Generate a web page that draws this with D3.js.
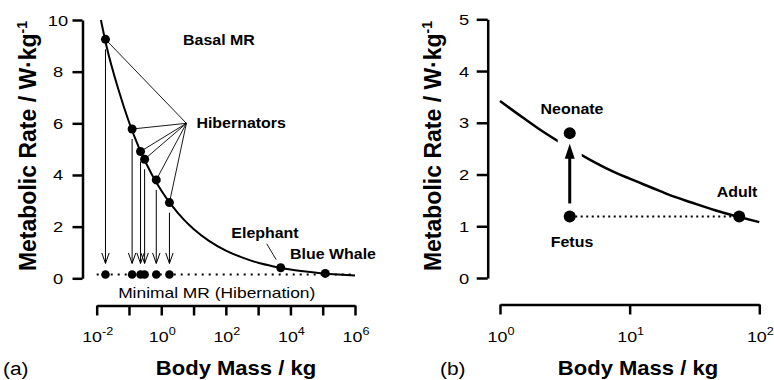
<!DOCTYPE html>
<html>
<head>
<meta charset="utf-8">
<script src="https://cdn.jsdelivr.net/npm/d3@7"></script>
<style>
  body { margin: 0; background: #fff; }
  svg { font-family: "Liberation Sans", Arial, sans-serif; }
</style>
</head>
<body>
<div id="chart"></div>
<script>
// ---- panel (a): basal vs minimal metabolic rate across mammals ----
var curveMassA = [0.0135, 0.02, 0.05, 0.1, 0.2, 0.5, 1, 2, 5, 10, 30, 100, 300, 1000, 3000, 1e4, 3e4, 1e5, 3e5, 1e6];
var curveRateA = [10.0, 9.0, 7.2, 6.05, 5.08, 4.04, 3.4, 2.86, 2.27, 1.91, 1.45, 1.075, 0.82, 0.60, 0.46, 0.34, 0.26, 0.19, 0.145, 0.107];
var hibMass = [0.0187, 0.125, 0.228, 0.305, 0.70, 1.79];
var hibBasal = [9.25, 5.78, 4.91, 4.61, 3.81, 2.93];
var hibMinimal = 0.15;
var bigMass = [5000, 120000];
var bigRate = [0.41, 0.19];
var yTicksA = [0, 2, 4, 6, 8, 10];
var xExpA = [-2, -1, 0, 1, 2, 3, 4, 5, 6];
var xLabelExpA = [-2, 0, 2, 4, 6];

// ---- panel (b): fetus / neonate / adult ----
var curveMassB = [1, 1.5, 2, 3, 5, 7, 10, 15, 20, 30, 50, 70, 100];
var curveRateB = [3.42, 3.10, 2.88, 2.60, 2.28, 2.09, 1.92, 1.74, 1.61, 1.46, 1.28, 1.18, 1.08];
var stageNames = ["Fetus", "Neonate", "Adult"];
var stageMass = [3.45, 3.45, 70];
var stageRate = [1.19, 2.80, 1.19];
var yTicksB = [0, 1, 2, 3, 4, 5];
var xExpB = [0, 1, 2];

var svg = d3.select("#chart").append("svg")
    .attr("width", 774)
    .attr("height", 380);

// text helper, the original figure is a bit stretched sideways
function addText(g, x, y, str, size, weight, anchor, sx) {
  return g.append("text")
    .attr("transform", "translate(" + x + "," + y + ") scale(" + sx + ",1)")
    .attr("text-anchor", anchor)
    .style("font-size", size + "px")
    .style("font-weight", weight)
    .text(str);
}

function styleAxis(g) {
  g.select(".domain").attr("stroke-width", 2.5);
  g.selectAll(".tick line").attr("stroke-width", 2.5);
}

function yTitle(g, x) {
  var t = g.append("text")
    .attr("transform", "translate(" + x + ",146) rotate(-90)")
    .attr("text-anchor", "middle")
    .style("font-size", "23px")
    .style("font-weight", "bold")
    .text("Metabolic Rate / W\u00B7kg");
  t.append("tspan").attr("dy", -9).style("font-size", "14px").text("-1");
}

var line = function (xs, ys) {
  return d3.line().x(function (d) { return xs(d[0]); }).y(function (d) { return ys(d[1]); })
    .curve(d3.curveMonotoneX);
};

// ================= panel (a) =================
var ga = svg.append("g");
var xa = d3.scaleLog().domain([1e-2, 1e6]).range([96.7, 355]);
var ya = d3.scaleLinear().domain([0, 10]).range([278.3, 20]);

ga.append("g").attr("transform", "translate(82.5,0)")
  .call(d3.axisLeft(ya).tickValues(yTicksA).tickSize(10).tickSizeOuter(0).tickFormat(""))
  .call(styleAxis);
ga.append("g").attr("transform", "translate(0,305.5)")
  .call(d3.axisBottom(xa).tickValues(xExpA.map(function (e) { return Math.pow(10, e); }))
    .tickSize(10).tickSizeOuter(0).tickFormat(""))
  .call(styleAxis);

yTicksA.forEach(function (v) {
  addText(ga, 58, ya(v) + 5.5, String(v), 15.5, "normal", "middle", 1.18);
});
xLabelExpA.forEach(function (e) {
  var t = addText(ga, xa(Math.pow(10, e)) + 1, 341.5, "10", 15.5, "normal", "middle", 1.15);
  t.append("tspan").attr("dy", -7).style("font-size", "11px").text(e);
});
yTitle(ga, 36);
addText(ga, 236, 375, "Body Mass / kg", 21, "bold", "middle", 1.05);
addText(ga, 3, 375, "(a)", 19, "normal", "start", 1.1);

// basal curve
ga.append("path")
  .datum(curveMassA.map(function (m, i) { return [m, curveRateA[i]]; }))
  .attr("d", line(xa, ya))
  .attr("fill", "none").attr("stroke", "#000").attr("stroke-width", 2);

// minimal MR (hibernation) dotted line
ga.append("line")
  .attr("x1", xa.range()[0]).attr("x2", xa.range()[1])
  .attr("y1", ya(hibMinimal)).attr("y2", ya(hibMinimal))
  .attr("stroke", "#000").attr("stroke-width", 2).attr("stroke-dasharray", "2,5");

// leader lines to "Hibernators"
var hx = xa(6), hy = ya(6);
hibMass.forEach(function (m, i) {
  ga.append("line")
    .attr("x1", hx).attr("y1", hy)
    .attr("x2", xa(m)).attr("y2", ya(hibBasal[i]))
    .attr("stroke", "#000").attr("stroke-width", 0.9);
});

// arrows basal -> minimal
hibMass.forEach(function (m, i) {
  var x = xa(m), y0 = ya(hibBasal[i]) + 10, y1 = ya(hibMinimal) - 11;
  ga.append("line").attr("x1", x).attr("x2", x).attr("y1", y0).attr("y2", y1)
    .attr("stroke", "#000").attr("stroke-width", 1);
  ga.append("path")
    .attr("d", "M" + (x - 3.7) + "," + (y1 - 10.5) + "L" + x + "," + y1 + "L" + (x + 3.7) + "," + (y1 - 10.5))
    .attr("fill", "none").attr("stroke", "#000").attr("stroke-width", 1);
});

// dots
ga.selectAll("circle.basal").data(hibMass).enter().append("circle")
  .attr("cx", function (d) { return xa(d); })
  .attr("cy", function (d, i) { return ya(hibBasal[i]); })
  .attr("r", 4.5);
ga.selectAll("circle.hib").data(hibMass).enter().append("circle")
  .attr("cx", function (d) { return xa(d); })
  .attr("cy", ya(hibMinimal))
  .attr("r", 4.3);
ga.selectAll("circle.big").data(bigMass).enter().append("circle")
  .attr("cx", function (d) { return xa(d); })
  .attr("cy", function (d, i) { return ya(bigRate[i]); })
  .attr("r", 4.5);

// elephant leader
ga.append("line")
  .attr("x1", xa(bigMass[0]) - 14).attr("y1", ya(bigRate[0]) - 24)
  .attr("x2", xa(bigMass[0]) - 4.5).attr("y2", ya(bigRate[0]) - 8)
  .attr("stroke", "#000").attr("stroke-width", 0.9);

addText(ga, 219, 45, "Basal MR", 14, "bold", "middle", 1.14);
addText(ga, hx + 10, hy + 5, "Hibernators", 14, "bold", "start", 1.14);
addText(ga, 265, 238.3, "Elephant", 14, "bold", "middle", 1.14);
addText(ga, 290, 259.3, "Blue Whale", 14, "bold", "start", 1.14);
addText(ga, 216.7, 298.3, "Minimal MR (Hibernation)", 15, "normal", "middle", 1.16);

// ================= panel (b) =================
var gb = svg.append("g");
var xb = d3.scaleLog().domain([1, 100]).range([500, 759.3]);
var yb = d3.scaleLinear().domain([0, 5]).range([278, 19.3]);

gb.append("g").attr("transform", "translate(487.7,0)")
  .call(d3.axisLeft(yb).tickValues(yTicksB).tickSize(11).tickSizeOuter(0).tickFormat(""))
  .call(styleAxis);
gb.append("g").attr("transform", "translate(0,304.5)")
  .call(d3.axisBottom(xb).tickValues(xExpB.map(function (e) { return Math.pow(10, e); }))
    .tickSize(10).tickSizeOuter(0).tickFormat(""))
  .call(styleAxis);

yTicksB.forEach(function (v) {
  addText(gb, 464, yb(v) + 5.5, String(v), 15.5, "normal", "middle", 1.18);
});
xExpB.forEach(function (e) {
  var t = addText(gb, xb(Math.pow(10, e)) + 1, 342, "10", 15.5, "normal", "middle", 1.15);
  t.append("tspan").attr("dy", -7).style("font-size", "11px").text(e);
});
yTitle(gb, 441);
addText(gb, 638, 375, "Body Mass / kg", 21, "bold", "middle", 1.05);
addText(gb, 440, 375, "(b)", 19, "normal", "start", 1.1);

gb.append("path")
  .datum(curveMassB.map(function (m, i) { return [m, curveRateB[i]]; }))
  .attr("d", line(xb, yb))
  .attr("fill", "none").attr("stroke", "#000").attr("stroke-width", 2.5);

// white gap around the arrow
var ax = xb(stageMass[0]);
var aTop = yb(stageRate[1]) + 10.6, aBot = yb(stageRate[0]) - 13;
gb.append("rect")
  .attr("x", ax - 12).attr("y", aTop - 5)
  .attr("width", 24).attr("height", aBot - aTop + 5)
  .attr("fill", "#fff");

gb.append("line")
  .attr("x1", xb(stageMass[0])).attr("x2", xb(stageMass[2]))
  .attr("y1", yb(stageRate[0])).attr("y2", yb(stageRate[2]))
  .attr("stroke", "#000").attr("stroke-width", 2).attr("stroke-dasharray", "2,3.5");

gb.append("line").attr("x1", ax).attr("x2", ax).attr("y1", aBot).attr("y2", aTop + 12)
  .attr("stroke", "#000").attr("stroke-width", 3);
gb.append("path")
  .attr("d", "M" + ax + "," + aTop + "L" + (ax + 5) + "," + (aTop + 15) + "L" + (ax - 5) + "," + (aTop + 15) + "Z")
  .attr("fill", "#000");

gb.selectAll("circle.stage").data(stageMass).enter().append("circle")
  .attr("cx", function (d) { return xb(d); })
  .attr("cy", function (d, i) { return yb(stageRate[i]); })
  .attr("r", 6);

addText(gb, 572, 114, stageNames[1], 14, "bold", "middle", 1.14);
addText(gb, 572, 246.7, stageNames[0], 14, "bold", "middle", 1.14);
addText(gb, 737, 196.7, stageNames[2], 14, "bold", "middle", 1.14);
</script>
</body>
</html>
